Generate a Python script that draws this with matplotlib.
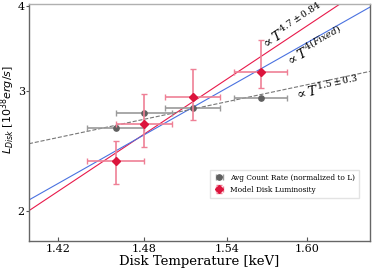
import matplotlib
matplotlib.use("Agg")
import matplotlib.pyplot as plt
import numpy as np
from matplotlib.ticker import FixedLocator, FixedFormatter, NullLocator

# Data
temp = [1.460, 1.480, 1.515, 1.565]
temp_err = [0.02, 0.02, 0.02, 0.02]
lum_model = [2.37, 2.68, 2.94, 3.20]
lum_model_lo = [0.18, 0.20, 0.22, 0.17]
lum_model_hi = [0.16, 0.29, 0.29, 0.37]
lum_count = [2.65, 2.78, 2.83, 2.93]

fit_labels = [r"$\propto T^{4.7\pm0.84}$", r"$\propto T^{4(Fixed)}$", r"$\propto T^{1.5\pm0.3}$"]
fit_index = [4.7, 4.0, 1.5]
fit_norm = [0.4106, 0.539, 1.514]

xticks = [1.42, 1.48, 1.54, 1.60]
xtick_labels = ["1.42", "1.48", "1.54", "1.60"]
yticks = [2, 3, 4]
ytick_labels = ["2", "3", "4"]

plt.rcParams['font.family'] = ['DejaVu Serif']
plt.rcParams['mathtext.fontset'] = 'dejavuserif'
fig = plt.figure(figsize=(3.74, 2.72), dpi=100)
ax = fig.add_axes([0.0775, 0.114, 0.9115, 0.871])
ax.set_xscale('log')
ax.set_yscale('log')
xmin, xmax = 1.4006, 1.649
ax.set_xlim(xmin, xmax)
ax.set_ylim(1.805, 4.027)

xx = np.linspace(xmin, xmax, 200)
colors = ['#e8194a', '#4a72e0', '#777777']
styles = ['-', '-', '--']
for n, k, c, ls in zip(fit_norm, fit_index, colors, styles):
    ax.plot(xx, n * xx**k, color=c, ls=ls, lw=0.8, zorder=2)

ax.errorbar(temp, lum_count, xerr=temp_err, fmt='o', color='#5f5f5f', ms=3.8,
            ecolor='#9a9a9a', elinewidth=1.2, capsize=2, capthick=1,
            label='Avg Count Rate (normalized to L)', zorder=3)
ax.errorbar(temp, lum_model, xerr=temp_err, yerr=[lum_model_lo, lum_model_hi], fmt='D',
            color='#dc143c', ms=3.8, ecolor='#ef8096', elinewidth=1.2, capsize=2, capthick=1,
            label='Model Disk Luminosity', zorder=4)

# annotations
ax.text(292, 272 - 27, fit_labels[0], transform=None, rotation=33, ha='center', va='center', fontsize=9.5)
ax.text(314, 272 - 47, fit_labels[1], transform=None, rotation=29.5, ha='center', va='center', fontsize=9.5)
ax.text(327, 272 - 88, fit_labels[2], transform=None, rotation=12, ha='center', va='center', fontsize=9.5)

ax.xaxis.set_major_locator(FixedLocator(xticks))
ax.xaxis.set_major_formatter(FixedFormatter(xtick_labels))
ax.xaxis.set_minor_locator(NullLocator())
ax.yaxis.set_major_locator(FixedLocator(yticks))
ax.yaxis.set_major_formatter(FixedFormatter(ytick_labels))
ax.yaxis.set_minor_locator(NullLocator())
ax.tick_params(axis='x', direction='in', length=3, labelsize=8, pad=2, color='#555555')
ax.tick_params(axis='y', direction='out', length=2, labelsize=8, pad=1, color='#555555')

for s in ['left', 'right', 'bottom']:
    ax.spines[s].set_color('#666666')
ax.spines['top'].set_color('#b0b0b0')
for s in ax.spines.values():
    s.set_linewidth(1.0)

ax.set_xlabel('Disk Temperature [keV]', fontsize=9.5, labelpad=1)
ax.set_ylabel(r'$L_{Disk}$ [$10^{38} erg/s$]', fontsize=8, math_fontfamily='dejavusans')
ax.yaxis.set_label_coords(-0.034, 0.555)

ax.legend(loc='lower right', bbox_to_anchor=(0.968, 0.181), borderaxespad=0, fontsize=5.3, frameon=True,
          edgecolor='#dddddd', fancybox=False, handlelength=1.2, borderpad=0.6, labelspacing=0.5)

fig.savefig('out.png', dpi=100)
